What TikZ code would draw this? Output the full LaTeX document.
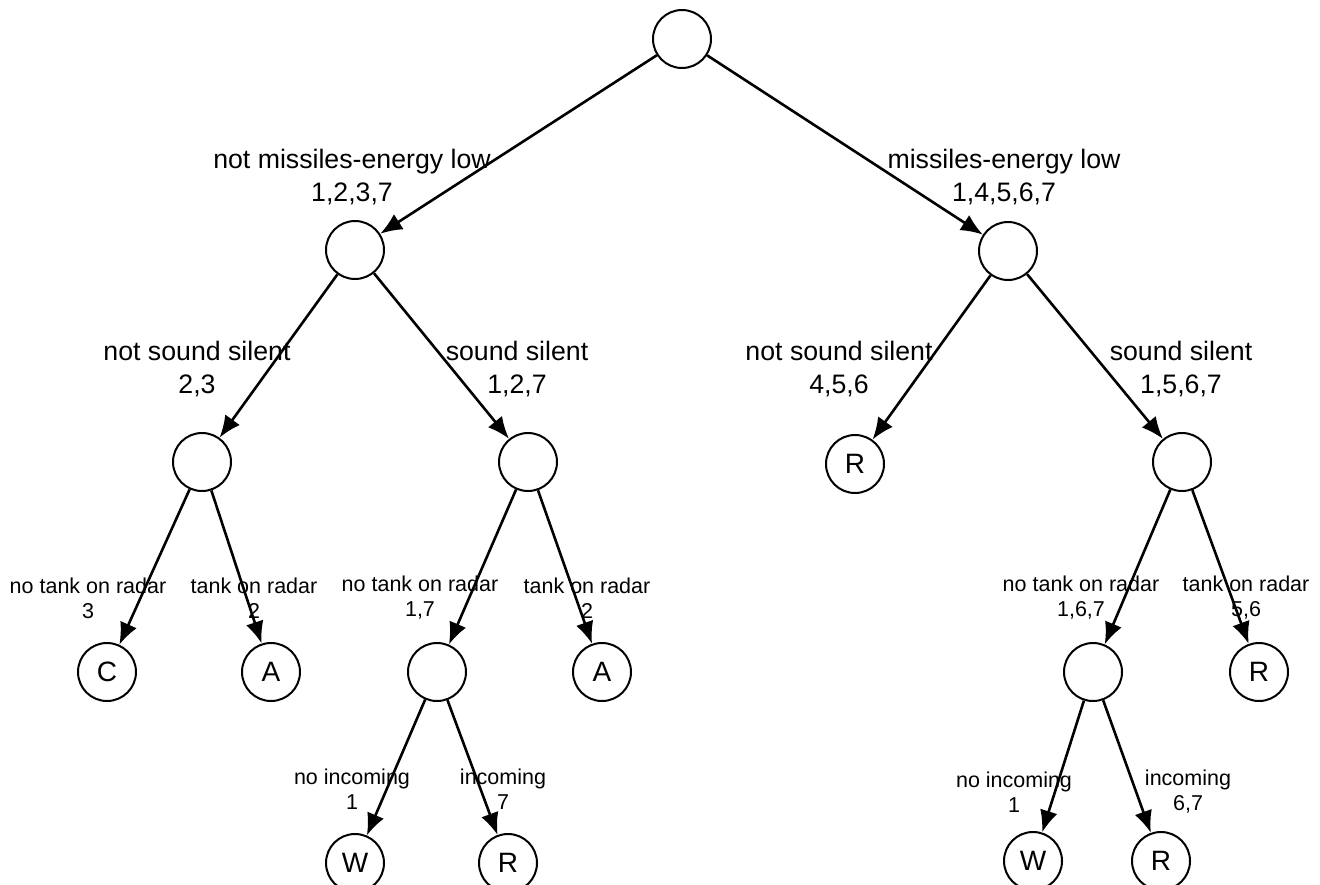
\documentclass[tikz,border=0pt]{standalone}
\usepackage{fontspec}
\setmainfont{Liberation Sans}
\usetikzlibrary{arrows.meta}

\begin{document}
\begin{tikzpicture}[x=1pt, y=-1pt,
    state/.style={circle, draw, line width=2pt, minimum size=58pt, inner sep=0pt, font=\fontsize{28}{32}\selectfont},
    edge/.style={line width=2.6pt, -{Latex[length=22pt, width=18pt]}},
    biglabel/.style={align=center, inner sep=0pt, font=\fontsize{26.7}{33}\selectfont},
    smalllabel/.style={align=center, inner sep=0pt, font=\fontsize{21.5}{25}\selectfont}]
  \useasboundingbox (0,0) rectangle (1320,884);

  % states
  \node[state] (root) at (682, 39) {};
  \node[state] (nme) at (355, 250) {};
  \node[state] (me) at (1008, 251) {};
  \node[state] (nmens) at (202, 462) {};
  \node[state] (nmes) at (528, 462) {};
  \node[state] (mens) at (855, 464) {R};
  \node[state] (mes) at (1182, 462) {};
  \node[state] (leafC) at (107, 672) {C};
  \node[state] (leafA) at (271, 672) {A};
  \node[state] (nmesnt) at (437, 672) {};
  \node[state] (leafA2) at (602, 672) {A};
  \node[state] (mesnt) at (1093, 672) {};
  \node[state] (leafR) at (1259, 672) {R};
  \node[state] (leafW) at (355, 863) {W};
  \node[state] (leafR2) at (508, 863) {R};
  \node[state] (leafW2) at (1033, 861) {W};
  \node[state] (leafR3) at (1161, 861) {R};

  % branch labels
  \node[biglabel] (lnme) at (352, 177) {not missiles-energy low\\1,2,3,7};
  \node[biglabel] (lme) at (1004, 177) {missiles-energy low\\1,4,5,6,7};
  \node[biglabel] (lnmens) at (197, 369) {not sound silent\\2,3};
  \node[biglabel] (lnmes) at (517, 369) {sound silent\\1,2,7};
  \node[biglabel] (lmens) at (839, 369) {not sound silent\\4,5,6};
  \node[biglabel] (lmes) at (1181, 369) {sound silent\\1,5,6,7};
  \node[smalllabel] (lC) at (88, 598) {no tank on radar\\3};
  \node[smalllabel] (lA) at (254, 598) {tank on radar\\2};
  \node[smalllabel] (lnmesnt) at (420, 598) {no tank on radar\\1,7};
  \node[smalllabel] (lA2) at (587, 598) {tank on radar\\2};
  \node[smalllabel] (lmesnt) at (1081, 598) {no tank on radar\\1,6,7};
  \node[smalllabel] (lR) at (1246, 598) {tank on radar\\5,6};
  \node[smalllabel] (lW) at (352, 789) {no incoming\\1};
  \node[smalllabel] (lR2) at (503, 789) {incoming\\7};
  \node[smalllabel] (lW2) at (1014, 792) {no incoming\\1};
  \node[smalllabel] (lR3) at (1188, 792) {incoming\\6,7};

  % branches
  \draw[edge] (root) -- (nme);
  \draw[edge] (root) -- (me);
  \draw[edge] (nme) -- (nmens);
  \draw[edge] (nme) -- (nmes);
  \draw[edge] (me) -- (mens);
  \draw[edge] (me) -- (mes);
  \draw[edge] (nmens) -- (leafC);
  \draw[edge] (nmens) -- (leafA);
  \draw[edge] (nmes) -- (nmesnt);
  \draw[edge] (nmes) -- (leafA2);
  \draw[edge] (mes) -- (mesnt);
  \draw[edge] (mes) -- (leafR);
  \draw[edge] (nmesnt) -- (leafW);
  \draw[edge] (nmesnt) -- (leafR2);
  \draw[edge] (mesnt) -- (leafW2);
  \draw[edge] (mesnt) -- (leafR3);
\end{tikzpicture}
\end{document}
